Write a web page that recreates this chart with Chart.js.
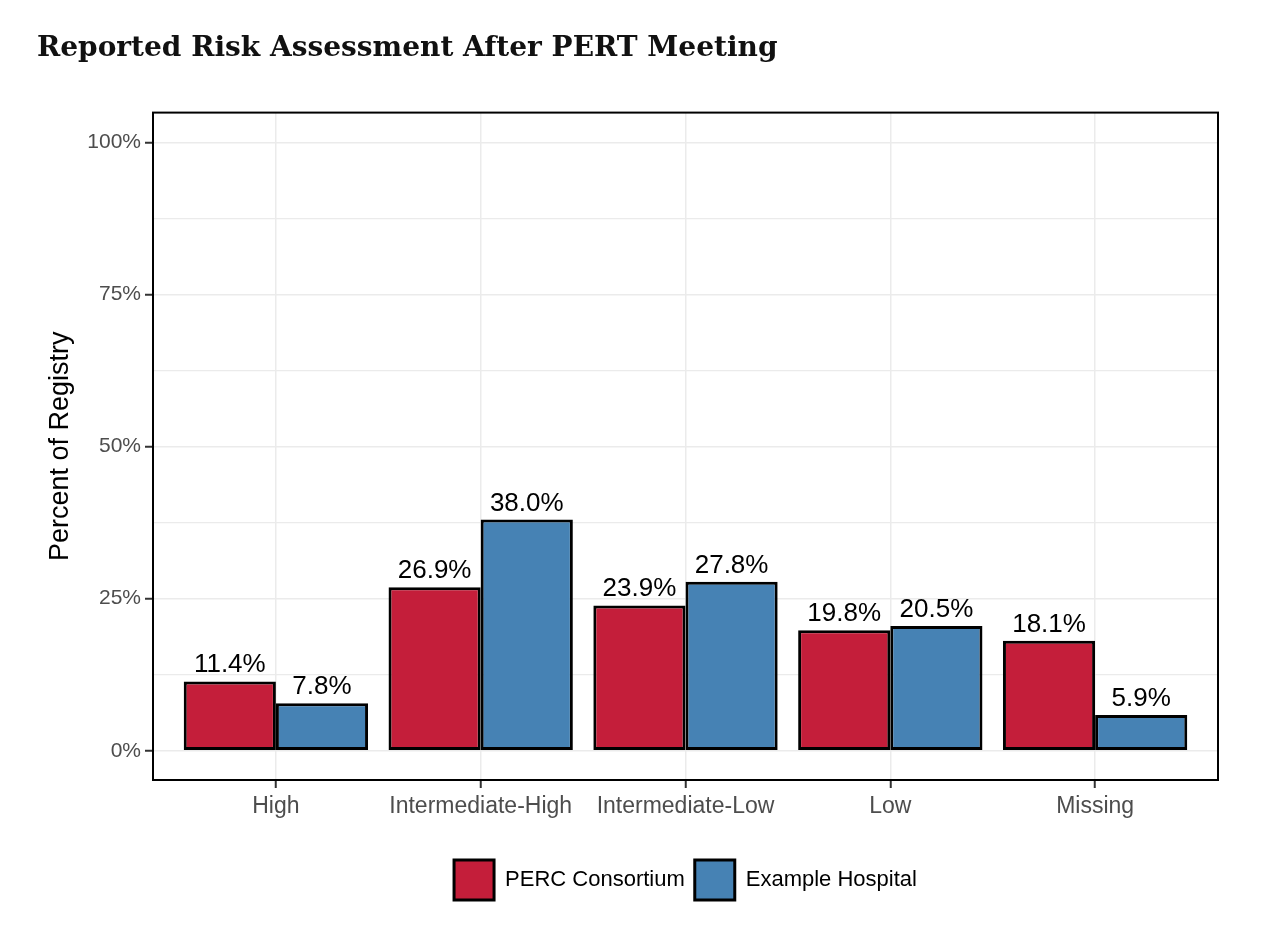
<!DOCTYPE html>
<html>
<head>
    <meta charset="UTF-8">
    <title>Reported Risk Assessment After PERT Meeting</title>
    <script src="https://cdn.jsdelivr.net/npm/chart.js@4.4.0/dist/chart.umd.min.js"></script>
    <style>
        html, body { margin: 0; padding: 0; background: #fff; }
        #wrap { position: relative; width: 1266px; height: 928px; }
    </style>
</head>
<body>
    <div id="wrap"><canvas id="riskChart"></canvas></div>

    <script>
        // data
        var categories = ['High', 'Intermediate-High', 'Intermediate-Low', 'Low', 'Missing'];
        var percValues = [11.4, 26.9, 23.9, 19.8, 18.1];
        var hospitalValues = [7.8, 38.0, 27.8, 20.5, 5.9];
        var seriesNames = ['PERC Consortium', 'Example Hospital'];
        var yTicks = [0, 12.5, 25, 37.5, 50, 62.5, 75, 87.5, 100];

        var RED = '#C41E3A';
        var BLUE = '#4682B4';
        var SANS = "'Liberation Sans', Arial, sans-serif";

        function toPoints(values) {
            return values.map(function (v, i) { return { x: i + 1, y: v }; });
        }

        // value labels above bars + panel border, legend centred on the panel
        var extras = {
            id: 'extras',
            beforeDraw: function (chart) {
                var a = chart.chartArea;
                chart.legend.left = a.left;
                chart.legend.right = a.right;
            },
            afterDatasetsDraw: function (chart) {
                var ctx = chart.ctx;
                ctx.save();
                ctx.fillStyle = '#000';
                ctx.font = '26px ' + SANS;
                ctx.textAlign = 'center';
                ctx.textBaseline = 'alphabetic';
                chart.data.datasets.forEach(function (ds, di) {
                    chart.getDatasetMeta(di).data.forEach(function (bar, i) {
                        ctx.fillText(ds.data[i].y.toFixed(1) + '%', bar.x, bar.y - 9);
                    });
                });
                ctx.restore();
            },
            afterDraw: function (chart) {
                var a = chart.chartArea;
                var ctx = chart.ctx;
                ctx.save();
                ctx.strokeStyle = '#000';
                ctx.lineWidth = 2;
                ctx.strokeRect(a.left, a.top, a.right - a.left, a.bottom - a.top);
                ctx.restore();
            }
        };

        function isMajor(c) {
            return c.tick && c.tick.value % 25 === 0;
        }

        new Chart(document.getElementById('riskChart'), {
            type: 'bar',
            data: {
                datasets: [{
                    label: seriesNames[0],
                    data: toPoints(percValues),
                    backgroundColor: RED,
                    borderColor: '#000',
                    borderWidth: 3,
                    borderSkipped: false
                }, {
                    label: seriesNames[1],
                    data: toPoints(hospitalValues),
                    backgroundColor: BLUE,
                    borderColor: '#000',
                    borderWidth: 3,
                    borderSkipped: false
                }]
            },
            options: {
                responsive: true,
                maintainAspectRatio: false,
                animation: false,
                categoryPercentage: 0.9,
                barPercentage: 1.0,
                layout: { padding: { left: 37, right: 48, top: 0, bottom: 18 } },
                scales: {
                    x: {
                        type: 'linear',
                        min: 0.4,
                        max: 5.6,
                        offset: false,
                        afterBuildTicks: function (scale) {
                            scale.ticks = categories.map(function (c, i) { return { value: i + 1 }; });
                        },
                        afterFit: function (scale) { scale.height = 70; },
                        ticks: {
                            color: '#4D4D4D',
                            font: { family: SANS, size: 23 },
                            padding: 5,
                            maxRotation: 0,
                            autoSkip: false,
                            callback: function (v) { return categories[v - 1]; }
                        },
                        grid: {
                            offset: false,
                            color: '#EBEBEB',
                            lineWidth: 1.5,
                            tickLength: 8,
                            tickColor: '#333',
                            tickWidth: 2
                        },
                        border: { display: true, color: '#000', width: 2 }
                    },
                    y: {
                        min: -4.8,
                        max: 104.9,
                        afterBuildTicks: function (scale) {
                            scale.ticks = yTicks.map(function (v) { return { value: v }; });
                        },
                        afterFit: function (scale) { scale.width = 116; },
                        ticks: {
                            color: '#4D4D4D',
                            font: { family: SANS, size: 21 },
                            padding: 4,
                            callback: function (v) { return v % 25 === 0 ? v + '%' : ''; }
                        },
                        grid: {
                            color: '#EBEBEB',
                            lineWidth: function (c) { return isMajor(c) ? 1.5 : 1.2; },
                            tickLength: 8,
                            tickColor: function (c) { return isMajor(c) ? '#333' : 'rgba(0,0,0,0)'; },
                            tickWidth: 2
                        },
                        border: { display: true, color: '#000', width: 2 },
                        title: {
                            display: true,
                            text: 'Percent of Registry',
                            color: '#000',
                            font: { family: SANS, size: 27 },
                            padding: { top: 7, bottom: 0 }
                        }
                    }
                },
                plugins: {
                    title: {
                        display: true,
                        text: 'Reported Risk Assessment After PERT Meeting',
                        align: 'start',
                        color: '#111',
                        font: { family: "'DejaVu Serif', serif", size: 28, weight: 'bold' },
                        padding: { top: 32, bottom: 47 }
                    },
                    legend: {
                        position: 'bottom',
                        labels: {
                            boxWidth: 40,
                            boxHeight: 40,
                            padding: 10,
                            color: '#000',
                            font: { family: SANS, size: 22 }
                        }
                    },
                    tooltip: { enabled: false }
                }
            },
            plugins: [extras]
        });
    </script>
</body>
</html>
